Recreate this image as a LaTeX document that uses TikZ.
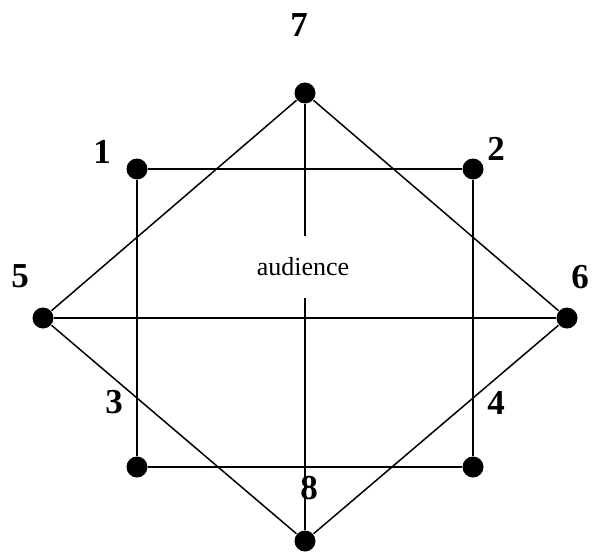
\documentclass[tikz,border=0pt]{standalone}
\usepackage{fontspec}
\setmainfont{Liberation Serif}
\usepackage{tikz}
\usetikzlibrary{positioning}

\begin{document}
\begin{tikzpicture}[x=1pt, y=-1pt, line width=1.5pt]
\tikzstyle{seat}=[circle, fill=black, inner sep=0pt, minimum size=21pt]
\tikzstyle{num}=[font=\fontsize{35}{35}\selectfont\bfseries, inner sep=0pt]
\useasboundingbox (0,0) rectangle (593,551);
% seats
\node[seat] (s1) at (137,169) {};
\node[seat] (s2) at (473,169) {};
\node[seat] (s3) at (137,467) {};
\node[seat] (s4) at (473,467) {};
\node[seat] (s5) at (43,318) {};
\node[seat] (s6) at (567,318) {};
\node[seat] (s7) at (305,93) {};
\node[seat] (s8) at (305,541) {};
\node[inner sep=0pt, minimum height=60pt, font=\fontsize{26}{26}\selectfont] (aud) at (303,267) {audience};
% labels
\node[num] (l1) at (102,152) {1};
\node[num] (l2) at (496,149) {2};
\node[num] (l3) at (114,402) {3};
\node[num] (l4) at (496,403) {4};
\node[num] (l5) at (20,276) {5};
\node[num] (l6) at (580,277) {6};
\node[num] (l7) at (299,25) {7};
\node[num] (l8) at (309,488) {8};
% square
\draw (s1) -- (s2) -- (s4) -- (s3) -- (s1);
% diamond
\draw (s7) -- (s5) -- (s8) -- (s6) -- (s7);
\draw (s5) -- (s6);
\draw (s7) -- (s7 |- aud.north);
\draw (s8 |- aud.south) -- (s8);
\end{tikzpicture}
\end{document}
